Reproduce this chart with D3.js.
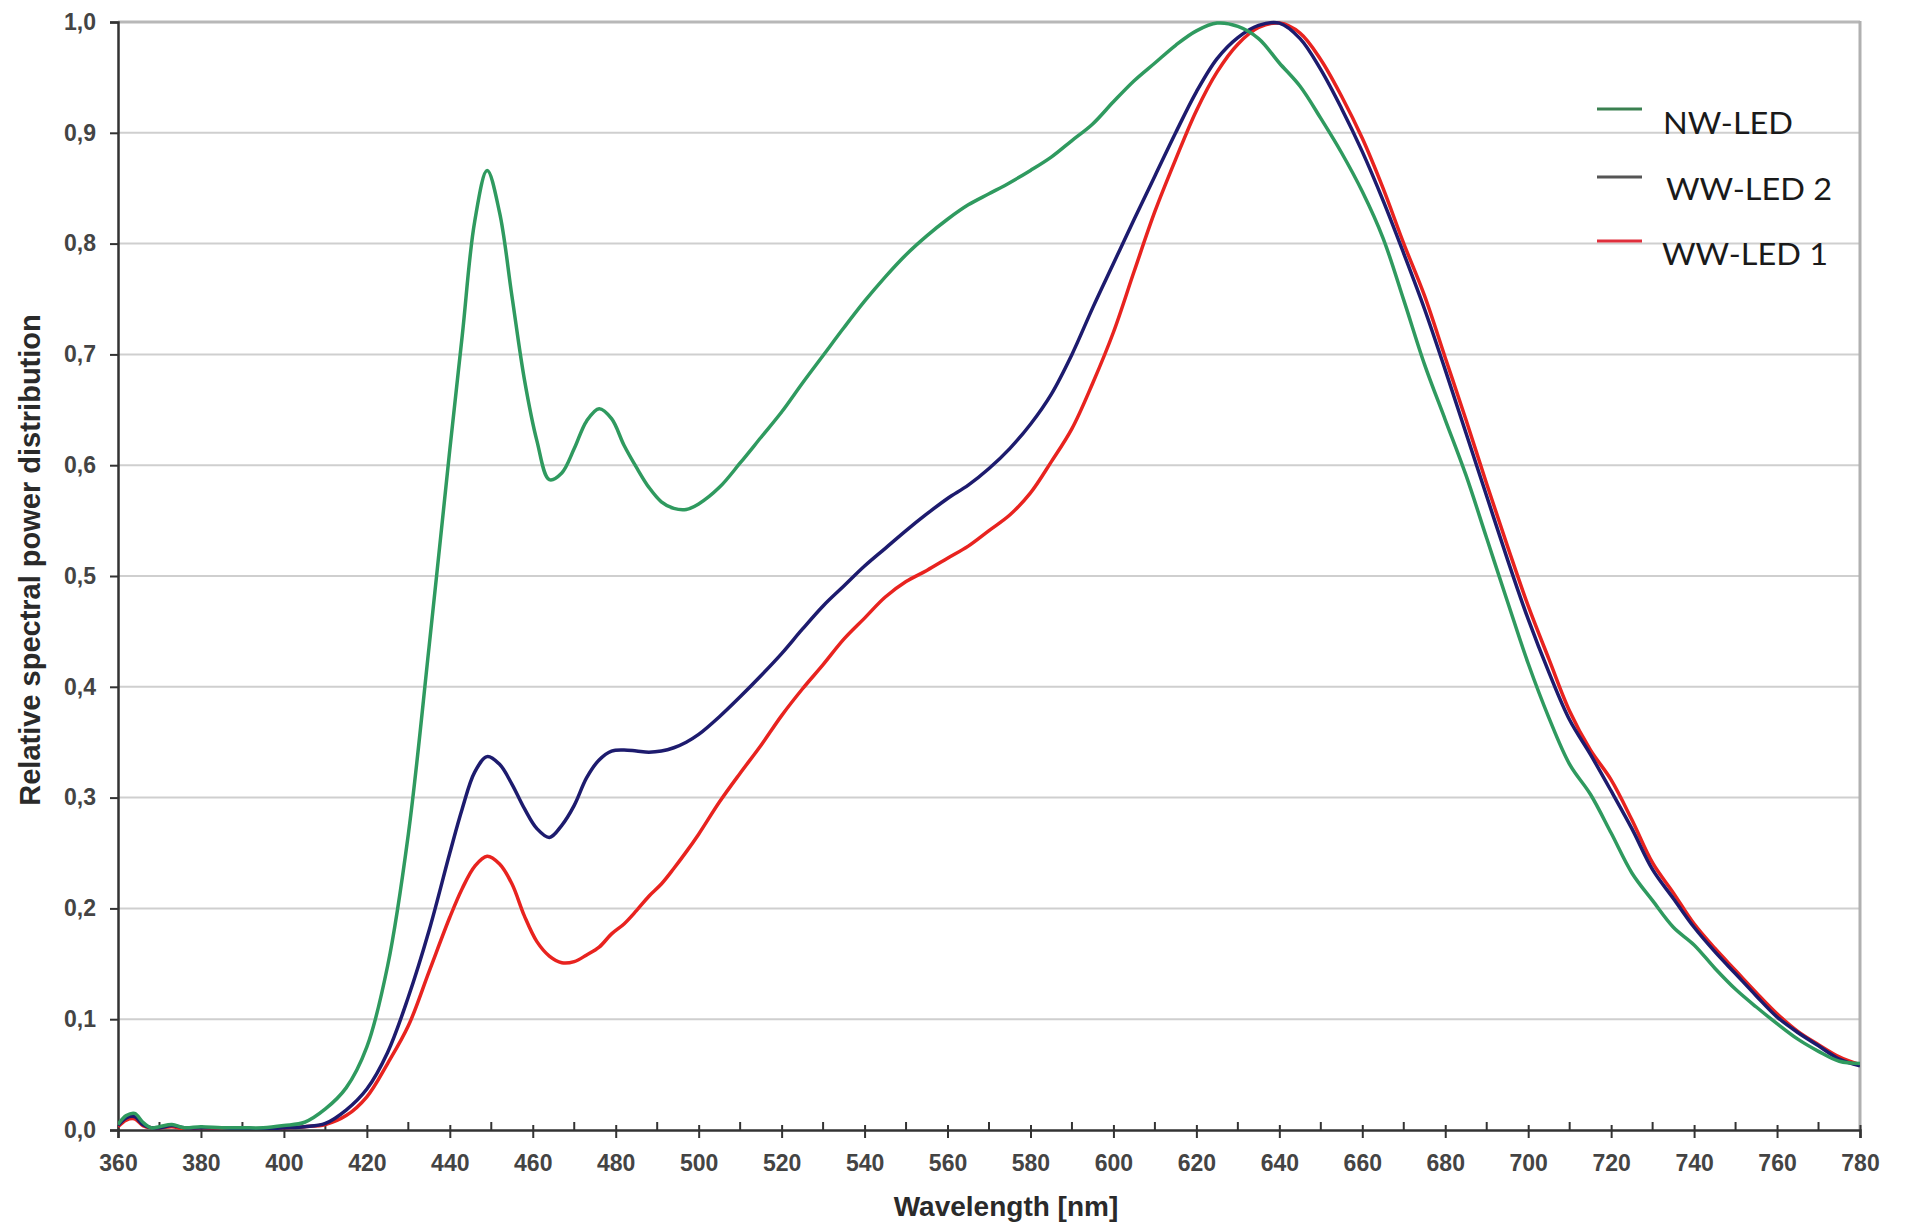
<!DOCTYPE html>
<html>
<head>
<meta charset="utf-8">
<script src="https://cdn.jsdelivr.net/npm/d3@7"></script>
<style>
  html, body { margin: 0; padding: 0; background: #fff; }
  svg { display: block; }
</style>
</head>
<body>
<svg id="chart" width="1906" height="1225"></svg>
<script>
// ---------------- DATA ----------------
const wavelengths = [360,362,364,366,368,370,373,376,380,385,390,395,400,405,410,415,420,425,430,435,440,443,446,449,452,455,458,461,464,467,470,473,476,479,482,485,488,491,494,497,500,505,510,515,520,525,530,535,540,545,550,555,560,565,570,575,580,585,590,595,600,605,610,615,620,625,630,635,640,645,650,655,660,665,670,675,680,685,690,695,700,705,710,715,720,725,730,735,740,745,750,755,760,765,770,775,780];

const nwLed = [0.005,0.013,0.015,0.007,0.002,0.003,0.005,0.002,0.003,0.002,0.002,0.002,0.004,0.007,0.019,0.038,0.075,0.148,0.267,0.436,0.614,0.717,0.82,0.866,0.828,0.752,0.677,0.622,0.587,0.593,0.615,0.64,0.651,0.642,0.618,0.598,0.58,0.567,0.561,0.56,0.565,0.58,0.602,0.625,0.648,0.674,0.699,0.724,0.748,0.77,0.79,0.807,0.822,0.835,0.845,0.855,0.866,0.878,0.893,0.908,0.928,0.947,0.963,0.979,0.992,0.999,0.996,0.985,0.963,0.942,0.913,0.882,0.847,0.805,0.749,0.691,0.641,0.591,0.534,0.477,0.421,0.372,0.33,0.303,0.268,0.232,0.207,0.183,0.167,0.146,0.127,0.111,0.096,0.082,0.071,0.062,0.06];

const wwLed2 = [0.004,0.011,0.012,0.005,0.002,0.002,0.004,0.002,0.002,0.002,0.001,0.001,0.002,0.003,0.006,0.018,0.037,0.07,0.12,0.18,0.25,0.29,0.323,0.337,0.33,0.312,0.29,0.272,0.264,0.275,0.293,0.318,0.334,0.342,0.343,0.342,0.341,0.342,0.345,0.35,0.357,0.373,0.391,0.41,0.43,0.452,0.473,0.491,0.509,0.525,0.541,0.556,0.57,0.582,0.597,0.615,0.637,0.664,0.7,0.742,0.782,0.822,0.861,0.9,0.937,0.967,0.986,0.997,0.999,0.985,0.957,0.922,0.883,0.839,0.791,0.741,0.686,0.629,0.572,0.515,0.461,0.413,0.37,0.339,0.306,0.272,0.235,0.209,0.183,0.161,0.141,0.121,0.102,0.088,0.076,0.064,0.058];

const wwLed1 = [0.003,0.009,0.01,0.004,0.002,0.002,0.003,0.001,0.002,0.001,0.001,0.001,0.002,0.003,0.005,0.013,0.03,0.06,0.094,0.143,0.192,0.218,0.238,0.247,0.24,0.222,0.193,0.17,0.157,0.151,0.152,0.158,0.165,0.177,0.186,0.198,0.211,0.222,0.236,0.251,0.267,0.296,0.322,0.347,0.374,0.398,0.42,0.443,0.462,0.481,0.495,0.505,0.516,0.527,0.541,0.555,0.575,0.603,0.633,0.674,0.72,0.775,0.829,0.876,0.92,0.955,0.98,0.995,0.999,0.99,0.966,0.933,0.895,0.85,0.8,0.753,0.697,0.641,0.583,0.527,0.473,0.425,0.378,0.343,0.316,0.28,0.241,0.214,0.186,0.164,0.144,0.124,0.105,0.089,0.077,0.066,0.059];

const seriesNames = ["NW-LED", "WW-LED 2", "WW-LED 1"];
const xTickValues = [360,380,400,420,440,460,480,500,520,540,560,580,600,620,640,660,680,700,720,740,760,780];
const yTickValues = [0,0.1,0.2,0.3,0.4,0.5,0.6,0.7,0.8,0.9,1.0];
const xTitle = "Wavelength [nm]";
const yTitle = "Relative spectral power distribution";

// ---------------- LAYOUT ----------------
const svg = d3.select("#chart");
const L = 118, R = 1860, T = 22, B = 1130;
const x = d3.scaleLinear().domain([360, 780]).range([L, R]);
const y = d3.scaleLinear().domain([0, 1]).range([B, T]);
const fmt = d => d3.format(".1f")(d).replace(".", ",");

// gridlines
svg.append("g").selectAll("line").data(yTickValues.filter(v => v > 0))
  .join("line")
  .attr("x1", L).attr("x2", R)
  .attr("y1", d => y(d)).attr("y2", d => y(d))
  .attr("stroke", d => d === 1 ? "#b8b8b8" : "#cfcfcf")
  .attr("stroke-width", d => d === 1 ? 3 : 2);

// right border
svg.append("line").attr("x1", R).attr("x2", R).attr("y1", T - 1).attr("y2", B)
  .attr("stroke", "#b0b0b0").attr("stroke-width", 3);

// y axis
const yAxis = d3.axisLeft(y).tickValues(yTickValues).tickFormat(fmt).tickSize(8).tickPadding(14);
const gy = svg.append("g").attr("transform", `translate(${L},0)`).call(yAxis);
gy.select(".domain").attr("stroke", "#333").attr("stroke-width", 2.5);
gy.selectAll(".tick line").attr("stroke", "#333").attr("stroke-width", 2);
gy.selectAll(".tick text").attr("font-family", "Liberation Sans, Arial, sans-serif")
  .attr("font-size", 23).attr("fill", "#444").attr("font-weight", "bold");

// x axis minor ticks (inside)
const minor = d3.range(370, 780, 20);
svg.append("g").selectAll("line").data(minor).join("line")
  .attr("x1", d => x(d)).attr("x2", d => x(d))
  .attr("y1", B - 8).attr("y2", B)
  .attr("stroke", "#333").attr("stroke-width", 2);

// x axis
const xAxis = d3.axisBottom(x).tickValues(xTickValues).tickFormat(d3.format("d")).tickSize(8).tickPadding(17);
const gx = svg.append("g").attr("transform", `translate(0,${B})`).call(xAxis);
gx.select(".domain").attr("stroke", "#333").attr("stroke-width", 2.5);
gx.selectAll(".tick line").attr("stroke", "#333").attr("stroke-width", 2).attr("y1", -5);
gx.selectAll(".tick text").attr("font-family", "Liberation Sans, Arial, sans-serif")
  .attr("font-size", 23).attr("fill", "#444").attr("font-weight", "bold");

// titles
svg.append("text")
  .attr("x", 1006).attr("y", 1216)
  .attr("text-anchor", "middle")
  .attr("font-family", "Liberation Sans, Arial, sans-serif")
  .attr("font-weight", "bold").attr("font-size", 28).attr("fill", "#2a2a2a")
  .text(xTitle);

svg.append("text")
  .attr("transform", "translate(40,560) rotate(-90)")
  .attr("text-anchor", "middle")
  .attr("font-family", "Liberation Sans, Arial, sans-serif")
  .attr("font-weight", "bold").attr("font-size", 29).attr("fill", "#2a2a2a")
  .text(yTitle);

// lines
const series = [
  {name: seriesNames[2], values: wwLed1, color: "#e8231f"},
  {name: seriesNames[1], values: wwLed2, color: "#1d1b6e"},
  {name: seriesNames[0], values: nwLed, color: "#2f9a5f"}
];
const line = d3.line()
  .x((d, i) => x(wavelengths[i]))
  .y(d => y(d))
  .curve(d3.curveCatmullRom.alpha(0.5));

svg.append("clipPath").attr("id", "clip").append("rect")
  .attr("x", L).attr("y", T - 4).attr("width", R - L).attr("height", B - T + 4);

svg.append("g").attr("clip-path", "url(#clip)").selectAll("path").data(series).join("path")
  .attr("d", s => line(s.values))
  .attr("fill", "none")
  .attr("stroke", s => s.color)
  .attr("stroke-width", 3.5)
  .attr("stroke-linejoin", "round");

// legend
const legend = [
  {name: seriesNames[0], color: "#3a8050", ly: 109, ty: 122, tx: 1663, w: 130},
  {name: seriesNames[1], color: "#555555", ly: 177, ty: 188, tx: 1666, w: 166},
  {name: seriesNames[2], color: "#e0303c", ly: 241, ty: 253, tx: 1662, w: 166}
];
const lg = svg.append("g");
lg.selectAll("line").data(legend).join("line")
  .attr("x1", 1597).attr("x2", 1642)
  .attr("y1", d => d.ly).attr("y2", d => d.ly)
  .attr("stroke", d => d.color).attr("stroke-width", 3);
lg.selectAll("text").data(legend).join("text")
  .attr("x", d => d.tx).attr("y", d => d.ty)
  .attr("dominant-baseline", "central")
  .attr("font-family", "Lato, Carlito, Calibri, sans-serif")
  .attr("font-size", 31).attr("fill", "#1a1a1a")
  .attr("textLength", d => d.w).attr("lengthAdjust", "spacingAndGlyphs")
  .text(d => d.name);
</script>
</body>
</html>
